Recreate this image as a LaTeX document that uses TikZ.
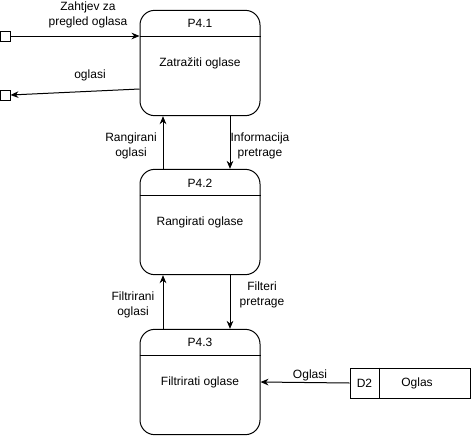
\documentclass[tikz,border=0pt]{standalone}
\usepackage{fontspec}
\setmainfont{Liberation Sans}
\usetikzlibrary{arrows.meta,calc}

\begin{document}
\begin{tikzpicture}[x=0.75pt,y=-0.75pt]
\tikzstyle{every node}+=[inner sep=0pt,font=\fontsize{9}{11}\selectfont]
\tikzstyle{proc}=[draw=black,line width=0.75pt,rounded corners=11pt,minimum width=90pt,minimum height=79pt]
\tikzstyle{ent}=[draw=black,line width=0.75pt,minimum size=7.5pt]
\tikzstyle{store}=[draw=black,line width=0.75pt,minimum width=90pt,minimum height=22.5pt]
\tikzstyle{flow}=[draw=black,line width=0.75pt,-{Stealth[length=6pt,width=5pt]}]
\useasboundingbox (0,0) rectangle (471,436);
\node [proc] (p1) at (200,63) {Zatražiti oglase};
\draw [line width=0.75pt] ($(p1.north west)+(0,27)$) -- ($(p1.north east)+(0,27)$);
\node (h1) at ($(p1.north)+(0,14)$) {P4.1};
\node [proc] (p2) at (200,222) {Rangirati oglase};
\draw [line width=0.75pt] ($(p2.north west)+(0,27)$) -- ($(p2.north east)+(0,27)$);
\node (h2) at ($(p2.north)+(0,14)$) {P4.2};
\node [proc] (p3) at (200,382) {Filtrirati oglase};
\draw [line width=0.75pt] ($(p3.north west)+(0,27)$) -- ($(p3.north east)+(0,27)$);
\node (h3) at ($(p3.north)+(0,14)$) {P4.3};
\node [ent] (e1) at (5,36) {};
\node [ent] (e2) at (5,95) {};
\node [store] (ds) at (410,383) {};
\draw [line width=0.75pt] ($(ds.north west)+(30,0)$) -- ($(ds.south west)+(30,0)$);
\node (d2) at ($(ds.west)+(15,0)$) {D2};
\node (oglas) at ($(ds.center)+(7,0)$) {Oglas};
\draw [flow] (e1.east) -- (p1.west |- e1.east);
\node [align=center] at (88,15) {Zahtjev za\\pregled oglasa};
\draw [flow] ($(p1.west)+(0,26)$) -- (e2.east);
\node at (90,75) {oglasi};
\draw [flow] ($(p2.north)+(-37,0)$) -- ($(p1.south)+(-37,0)$);
\node [align=center] at (131,146) {Rangirani\\oglasi};
\draw [flow] ($(p1.south)+(30,0)$) -- ($(p2.north)+(30,0)$);
\node [align=center] at (260,146) {Informacija\\pretrage};
\draw [flow] ($(p3.north)+(-37,0)$) -- ($(p2.south)+(-37,0)$);
\node [align=center] at (133,305) {Filtrirani\\oglasi};
\draw [flow] ($(p2.south)+(30,0)$) -- ($(p3.north)+(30,0)$);
\node [align=center] at (262,295) {Filteri\\pretrage};
\draw [flow] (ds.west) -- (p3.east);
\node at (310,375) {Oglasi};
\end{tikzpicture}
\end{document}
